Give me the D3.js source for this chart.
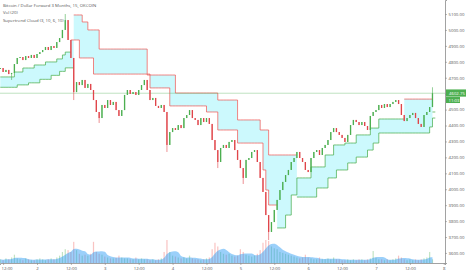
<!DOCTYPE html>
<html>
<head>
<meta charset="utf-8">
<script src="https://d3js.org/d3.v7.min.js"></script>
<style>
body { margin: 0; background: #fff; }
svg { display: block; font-family: "Open Sans", sans-serif; }
</style>
</head>
<body>
<div id="chart"></div>
<script>
var titleLines = ["Bitcoin / Dollar Forward 3 Months, 15, OKCOIN", "Vol (20)", "Supertrend Cloud (3, 10, 6, 10)"];
var firstCandle = Date.UTC(2017, 8, 1, 11);   // hourly candles from here
var firstOpen = 4755;
var closes = [
  4761, 4736, 4749, 4723, 4730, 4786, 4824, 4830, 4811, 4836,
  4824, 4843, 4824, 4849, 4861, 4874, 4893, 4874, 4899, 4887,
  4924, 4949, 5000, 5062, 4937, 4824, 4610, 4673, 4654, 4686,
  4636, 4661, 4623, 4560, 4485, 4447, 4529, 4510, 4560, 4529,
  4548, 4497, 4460, 4497, 4592, 4623, 4598, 4610, 4592, 4623,
  4654, 4686, 4623, 4560, 4573, 4523, 4510, 4529, 4485, 4278,
  4359, 4384, 4372, 4403, 4384, 4447, 4466, 4497, 4447, 4435,
  4403, 4447, 4422, 4447, 4410, 4309, 4246, 4171, 4259, 4278,
  4259, 4297, 4309, 4246, 4184, 4133, 4071, 4184, 4196, 4234,
  4246, 4171, 4071, 3983, 3838, 3732, 3794, 3870, 3933, 3995,
  4046, 4089, 4121, 4171, 4196, 4234, 4196, 4171, 4121, 4108,
  4196, 4234, 4246, 4215, 4259, 4278, 4309, 4359, 4384, 4359,
  4341, 4322, 4297, 4341, 4403, 4435, 4422, 4403, 4422, 4397,
  4372, 4460, 4485, 4497, 4529, 4510, 4535, 4516, 4535, 4548,
  4560, 4535, 4466, 4428, 4447, 4466, 4479, 4447, 4410, 4391,
  4466, 4485, 4516, 4602.75
];
// the few long shadows: [candle, high, low]
var wicks = [[4, null, 4686], [23, 5100, null], [26, null, 4560], [35, null, 4416],
  [59, null, 4234], [77, null, 4133], [86, null, 4033], [95, null, 3681], [153, 4640, null]];
var volumes = [
  400, 300, 500, 400, 600, 900, 500, 400, 300, 500,
  400, 300, 300, 400, 500, 400, 300, 400, 500, 400,
  600, 800, 1200, 1500, 1400, 1200, 2300, 1400, 1000, 800,
  900, 800, 1000, 2300, 1200, 1000, 900, 700, 600, 500,
  500, 600, 800, 600, 500, 500, 400, 400, 600, 400,
  500, 400, 400, 300, 400, 300, 400, 500, 1200, 2500,
  1200, 800, 700, 600, 500, 600, 500, 800, 500, 400,
  400, 300, 400, 500, 600, 1500, 2200, 1800, 1200, 1000,
  900, 1000, 800, 700, 800, 1500, 1200, 900, 800, 700,
  800, 1000, 1400, 2200, 2500, 2400, 1800, 1600, 1500, 1200,
  1100, 1000, 900, 800, 700, 600, 500, 600, 900, 600,
  500, 400, 400, 600, 400, 400, 500, 400, 600, 400,
  400, 300, 300, 400, 300, 400, 300, 400, 400, 300,
  400, 500, 1300, 600, 400, 400, 300, 400, 300, 400,
  500, 800, 600, 400, 300, 400, 300, 400, 300, 400,
  500, 600, 1200, 400
];
// supertrend levels as [first candle, level]
var st1Steps = [[0, 4705], [5, 4736], [8, 4761], [12, 4780], [16, 4799], [20, 4818], [22, 4843], [23, 4861],
  [25, 4937], [28, 4824], [33, 4723], [53, 4636], [60, 4523], [73, 4485], [77, 4372], [84, 4290],
  [93, 4121], [94, 3995], [95, 3901], [98, 3757], [101, 3838], [103, 3964], [105, 4071], [110, 4140],
  [115, 4215], [118, 4278], [122, 4290], [126, 4341], [131, 4384], [134, 4441], [143, 4566], [153, 4485]];
var st2Steps = [[0, 4640], [6, 4655], [10, 4668], [14, 4690], [18, 4715], [21, 4740], [23, 4762],
  [26, 5094], [29, 5050], [31, 5000], [35, 4880], [52, 4717], [62, 4604], [77, 4560], [84, 4435],
  [92, 4372], [95, 4215], [105, 3951], [112, 4008], [116, 4071], [119, 4121], [123, 4165], [126, 4202],
  [130, 4246], [132, 4290], [134, 4353], [152, 4391], [153, 4447]];
var priceTicks = d3.range(3600, 5101, 100);
var lastPrice = 4602.75;
var countdown = "11:03";

var W = 466, H = 275, plotR = 445, plotB = 263;
var hour = 3600 * 1000;

var svg = d3.select("#chart").append("svg")
    .attr("width", W)
    .attr("height", H)
    .style("background", "#fff");

var x = d3.scaleUtc()
    .domain([new Date(Date.UTC(2017, 8, 1, 10, 54)), new Date(Date.UTC(2017, 8, 8, 0, 26))])
    .range([0, plotR]);
var y = d3.scaleLinear().domain([3537, 5188]).range([plotB, 0]);
var yVol = d3.scaleLinear().domain([0, 2500]).range([plotB, plotB - 23]);

function stepLevels(steps, n) {
    var out = [], k = 0;
    for (var i = 0; i < n; i++) {
        while (k + 1 < steps.length && steps[k + 1][0] <= i) k++;
        out.push(steps[k][1]);
    }
    return out;
}

var candles = closes.map(function (c, i) {
    var o = i == 0 ? firstOpen : closes[i - 1];
    return { i: i, t: new Date(firstCandle + i * hour), o: o, c: c, hi: Math.max(o, c), lo: Math.min(o, c), v: volumes[i] };
});
wicks.forEach(function (w) {
    if (w[1] != null) candles[w[0]].hi = w[1];
    if (w[2] != null) candles[w[0]].lo = w[2];
});
var st1 = stepLevels(st1Steps, closes.length);
var st2 = stepLevels(st2Steps, closes.length);
candles.forEach(function (d, i) { d.s1 = st1[i]; d.s2 = st2[i]; });

// vol MA (20 x 15m = 5 hourly candles)
candles.forEach(function (d, i) {
    var sl = volumes.slice(Math.max(0, i - 4), i + 1);
    d.ma = d3.mean(sl);
});

var plot = svg.append("g");
svg.append("clipPath").attr("id", "clip").append("rect")
    .attr("width", plotR).attr("height", plotB);
plot.attr("clip-path", "url(#clip)");

var cx = function (d) { return x(d.t); };

// volume
plot.selectAll(".vol").data(candles).enter().append("rect")
    .attr("x", function (d) { return cx(d) - 0.6; })
    .attr("y", function (d) { return yVol(d.v); })
    .attr("width", 1.2)
    .attr("height", function (d) { return plotB - yVol(d.v); })
    .attr("fill", function (d) { return d.c >= d.o ? "rgba(76,175,80,0.35)" : "rgba(239,83,80,0.35)"; });

plot.append("path")
    .datum(candles)
    .attr("fill", "rgba(33,150,243,0.45)")
    .attr("d", d3.area().x(cx).y0(plotB).y1(function (d) { return yVol(d.ma); }).curve(d3.curveMonotoneX));

// supertrend cloud
plot.append("path")
    .datum(candles)
    .attr("fill", "rgba(0,225,245,0.2)")
    .attr("d", d3.area().x(cx).y0(function (d) { return y(d.s1); }).y1(function (d) { return y(d.s2); })
        .curve(d3.curveStepAfter));

function drawTrend(key) {
    var runs = [], cur = null;
    candles.forEach(function (d) {
        var up = d[key] < d.c;
        if (!cur || cur.up != up) { cur = { up: up, pts: [] }; runs.push(cur); }
        cur.pts.push(d);
    });
    runs.forEach(function (r) {
        var last = r.pts[r.pts.length - 1];
        var pts = r.pts.concat([{ t: new Date(+last.t + hour), v: last[key] }]);
        plot.append("path")
            .datum(pts)
            .attr("fill", "none")
            .attr("stroke", r.up ? "rgba(76,175,80,0.75)" : "rgba(239,83,80,0.7)")
            .attr("stroke-width", 1)
            .attr("d", d3.line().x(cx).y(function (d) { return y(d[key] != null ? d[key] : d.v); })
                .curve(d3.curveStepAfter));
    });
}
drawTrend("s1");
drawTrend("s2");

// last price line
plot.append("line")
    .attr("x1", 0).attr("x2", plotR)
    .attr("y1", y(lastPrice)).attr("y2", y(lastPrice))
    .attr("stroke", "rgba(76,175,80,0.45)")
    .attr("stroke-width", 0.8);

// candles
var cg = plot.append("g");
cg.selectAll("line").data(candles).enter().append("line")
    .attr("x1", cx).attr("x2", cx)
    .attr("y1", function (d) { return y(d.hi); })
    .attr("y2", function (d) { return y(d.lo); })
    .attr("stroke", function (d) { return d.c >= d.o ? "#4caf50" : "#e0454a"; })
    .attr("stroke-width", 0.6);
cg.selectAll("rect").data(candles).enter().append("rect")
    .attr("x", function (d) { return cx(d) - 0.65; })
    .attr("y", function (d) { return y(Math.max(d.o, d.c)); })
    .attr("width", 1.3)
    .attr("height", function (d) { return Math.max(0.6, Math.abs(y(d.o) - y(d.c))); })
    .attr("fill", function (d) { return d.c >= d.o ? "#4caf50" : "#e0454a"; });

// axes
var axisColor = "#8a8a8a", textColor = "#555";
var yAxis = svg.append("g")
    .attr("transform", "translate(" + plotR + ",0)")
    .call(d3.axisRight(y).tickValues(priceTicks).tickFormat(d3.format(".2f")).tickSize(2).tickPadding(1.5));
var xAxis = svg.append("g")
    .attr("transform", "translate(0," + plotB + ")")
    .call(d3.axisBottom(x).ticks(d3.utcHour.every(12)).tickSize(2).tickPadding(2)
        .tickFormat(function (d) { return d.getUTCHours() == 0 ? String(d.getUTCDate()) : "12:00"; }));
[yAxis, xAxis].forEach(function (a) {
    a.select(".domain").attr("stroke", axisColor).attr("stroke-width", 0.8);
    a.selectAll(".tick line").attr("stroke", axisColor).attr("stroke-width", 0.6);
    a.selectAll("text").attr("fill", textColor).attr("font-size", 4.3).attr("font-family", "Open Sans");
});
// first label sits at the left edge
xAxis.selectAll(".tick text").filter(function (d, i) { return i == 0; })
    .attr("text-anchor", "start").attr("x", -2);

// price label on the axis
var ly = y(lastPrice);
svg.append("rect").attr("x", plotR + 1).attr("y", ly - 3.8).attr("width", 20).attr("height", 7.2)
    .attr("fill", "#4caf50");
svg.append("text").attr("x", plotR + 4).attr("y", ly + 1.5).text(d3.format(".2f")(lastPrice))
    .attr("fill", "#fff").attr("font-size", 4.3);
svg.append("rect").attr("x", plotR + 1).attr("y", ly + 3.8).attr("width", 14).attr("height", 6)
    .attr("fill", "#4caf50");
svg.append("text").attr("x", plotR + 3.5).attr("y", ly + 8.4).text(countdown)
    .attr("fill", "#fff").attr("font-size", 4.3);

// legend
svg.append("g").selectAll("text").data(titleLines).enter().append("text")
    .attr("x", 3)
    .attr("y", function (d, i) { return 6.5 + i * 7.5; })
    .attr("font-size", 4.3)
    .attr("fill", textColor)
    .text(function (d) { return d; });
</script>
</body>
</html>
